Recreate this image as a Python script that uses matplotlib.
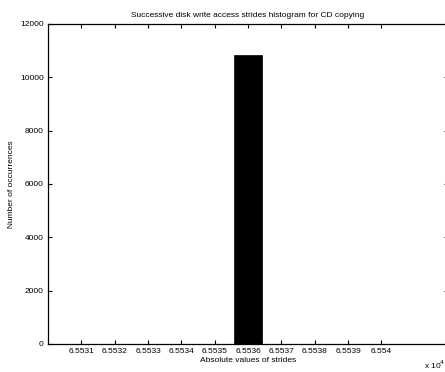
import numpy as np
import matplotlib.pyplot as plt
from matplotlib.ticker import FuncFormatter

plt.rcParams['font.family'] = ['Liberation Sans', 'DejaVu Sans']

# histogram of stride magnitudes (bin centres and counts)
strides = [65531, 65532, 65533, 65534, 65535, 65536, 65537, 65538, 65539, 65540]
counts = [0, 0, 0, 0, 0, 10840, 0, 0, 0, 0]
yticks = [0, 2000, 4000, 6000, 8000, 10000, 12000]

fig = plt.figure(figsize=(4.45, 3.72), dpi=100)
ax = fig.add_axes([48/445, (372-344)/372, 400/445, (344-24)/372])

ax.bar(strides, counts, width=0.87, color='black', edgecolor='black', linewidth=0.5)

ax.set_xlim(65530, 65542)
ax.set_ylim(0, 12000)
ax.set_xticks(strides)
ax.xaxis.set_major_formatter(FuncFormatter(lambda v, p: ('%.5f' % (v / 1e4)).rstrip('0')))
ax.set_yticks(yticks)
ax.tick_params(direction='in', top=True, right=True, length=3, width=0.8, labelsize=6, pad=3)

for s in ax.spines.values():
    s.set_linewidth(0.9)

ax.set_title('Successive disk write access strides histogram for CD copying', fontsize=6, pad=5)
ax.set_xlabel('Absolute values of strides', fontsize=6, labelpad=1)
ax.set_ylabel('Number of occurrences', fontsize=6, labelpad=4)
fig.text(424/445, 1 - 365/372, r'x 10$^4$', fontsize=6, va='center', ha='left')

fig.savefig('out.png', dpi=100)
